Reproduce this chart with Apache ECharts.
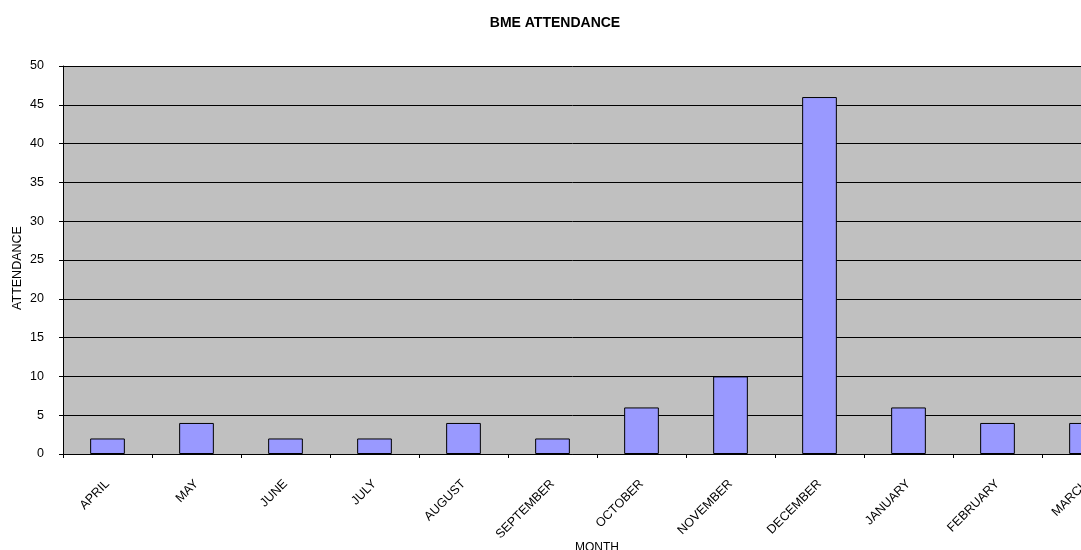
<!DOCTYPE html>
<html>
<head>
<meta charset="utf-8">
<script src="https://cdn.jsdelivr.net/npm/echarts@6/dist/echarts.min.js"></script>
<style>
	html, body { margin: 0; padding: 0; background: #fff; overflow: hidden; }
	#main { width: 1081px; height: 550px; }
</style>
</head>
<body>
<div id="main"></div>
<script>
var months = ['APRIL', 'MAY', 'JUNE', 'JULY', 'AUGUST', 'SEPTEMBER', 'OCTOBER', 'NOVEMBER', 'DECEMBER', 'JANUARY', 'FEBRUARY', 'MARCH'];
var attendance = [2, 4, 2, 2, 4, 2, 6, 10, 46, 6, 4, 4];

(function() {
	var myChart = echarts.init(document.getElementById('main'));

	var option = {
		animation: false,
		textStyle: {
			fontFamily: 'Liberation Sans, Arial, sans-serif'
		},
		title: {
			text: 'BME ATTENDANCE',
			left: 550,
			top: 11,
			textAlign: 'center',
			textStyle: {
				fontSize: 14,
				fontWeight: 'bold',
				color: '#000'
			}
		},
		grid: {
			left: 63,
			right: -50, // plot runs past the right edge, March is cut off
			top: 66,
			bottom: 96,
			outerBoundsMode: 'none',
			containLabel: false,
			show: true,
			backgroundColor: '#c0c0c0',
			borderWidth: 0
		},
		xAxis: {
			type: 'category',
			data: months,
			name: 'MONTH',
			nameLocation: 'middle',
			nameMoveOverlap: false,
			nameGap: 88,
			nameTextStyle: {
				fontSize: 12,
				color: '#000'
			},
			axisLine: { lineStyle: { color: '#000', width: 1 } },
			axisTick: { show: true, length: 4, lineStyle: { color: '#000' } },
			axisLabel: {
				rotate: 45,
				fontSize: 12.5,
				color: '#000',
				margin: 28
			}
		},
		yAxis: {
			type: 'value',
			min: 0,
			max: 50,
			interval: 5,
			name: 'ATTENDANCE',
			nameLocation: 'middle',
			nameMoveOverlap: false,
			nameGap: 39,
			nameTextStyle: {
				fontSize: 12.5,
				color: '#000',
				padding: [0, 16, 0, 0]
			},
			axisLine: { show: true, lineStyle: { color: '#000', width: 1 } },
			axisTick: { show: true, length: 4, lineStyle: { color: '#000' } },
			axisLabel: {
				fontSize: 12.5,
				color: '#000',
				margin: 19
			},
			splitLine: {
				show: true,
				lineStyle: { color: '#000', width: 1 }
			}
		},
		series: [{
			name: 'ATTENDANCE',
			type: 'bar',
			data: attendance,
			barWidth: '39%',
			itemStyle: {
				color: '#9999ff',
				borderColor: '#000',
				borderWidth: 1
			}
		}]
	};

	myChart.setOption(option);
})();
</script>
</body>
</html>
